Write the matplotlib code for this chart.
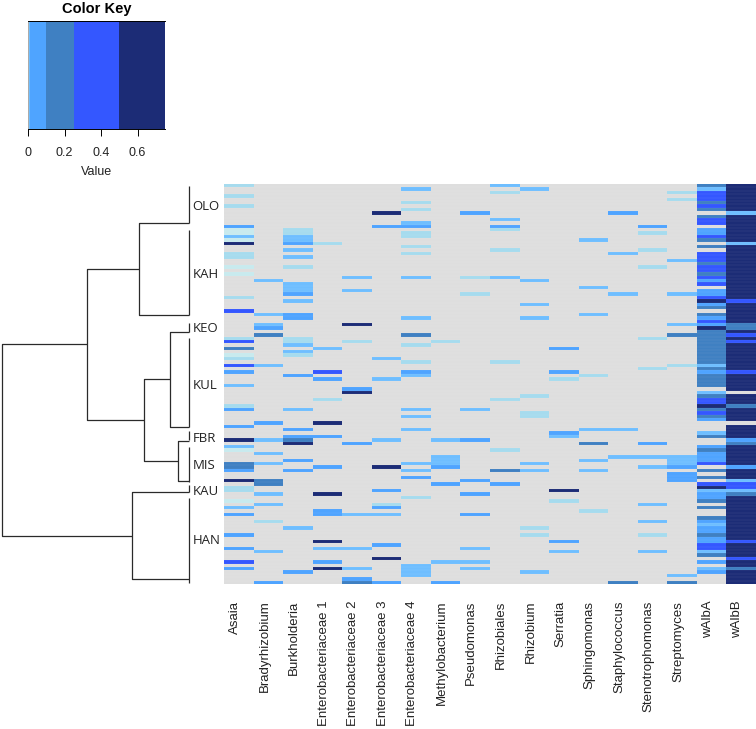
# -*- coding: utf-8 -*-
import numpy as np
import matplotlib
matplotlib.use("Agg")
import matplotlib.pyplot as plt
from matplotlib.colors import ListedColormap, BoundaryNorm

W, H = 756, 729
N_ROWS = 118

taxa = ["Asaia", "Bradyrhizobium", "Burkholderia", "Enterobacteriaceae 1",
        "Enterobacteriaceae 2", "Enterobacteriaceae 3", "Enterobacteriaceae 4",
        "Methylobacterium", "Pseudomonas", "Rhizobiales", "Rhizobium", "Serratia",
        "Sphingomonas", "Staphylococcus", "Stenotrophomonas", "Streptomyces",
        "wAlbA", "wAlbB"]

# colour class of each non-empty cell, row: class (0 = empty, 7 = darkest)
asaia = {0: 2, 3: 2, 6: 2, 12: 4, 13: 1, 14: 1, 15: 3, 16: 1, 17: 7, 20: 2, 21: 2, 24: 1, 26: 1,
         33: 2, 37: 6, 45: 2, 46: 6, 48: 5, 50: 1, 51: 2, 53: 6, 55: 4, 59: 3, 65: 2, 66: 4,
         71: 4, 75: 7, 77: 3, 78: 1, 82: 5, 83: 5, 84: 4, 87: 7, 89: 2, 90: 2, 93: 1, 95: 3,
         97: 4, 103: 4, 107: 4, 111: 6, 113: 4}
bradyrhizobium = {28: 3, 38: 3, 41: 3, 42: 4, 44: 5, 53: 3, 70: 4, 75: 3, 79: 3, 82: 3, 87: 5,
                  88: 5, 91: 3, 94: 3, 99: 2, 108: 3, 117: 4}
burkholderia = {13: 2, 14: 2, 15: 3, 16: 3, 17: 4, 19: 3, 21: 3, 24: 2, 29: 3, 30: 3, 31: 3,
                32: 4, 34: 3, 38: 4, 39: 4, 45: 2, 46: 2, 47: 3, 49: 3, 50: 2, 56: 4, 66: 3,
                72: 4, 74: 4, 75: 5, 76: 7, 81: 4, 84: 4, 101: 3, 114: 4}
entero1 = {17: 2, 48: 3, 55: 6, 57: 4, 63: 2, 70: 7, 74: 4, 83: 4, 91: 7, 96: 4, 97: 4, 105: 7,
           107: 3, 111: 4, 113: 7}
entero2 = {27: 3, 31: 3, 41: 7, 46: 2, 60: 4, 61: 7, 76: 4, 97: 3, 107: 3, 113: 3, 116: 4, 117: 5}
entero3 = {8: 7, 12: 4, 51: 3, 57: 3, 75: 3, 83: 7, 90: 4, 94: 2, 95: 4, 97: 3, 106: 4, 110: 7,
           117: 4}
entero4 = {1: 3, 5: 2, 7: 2, 11: 3, 12: 4, 14: 2, 15: 2, 18: 2, 20: 2, 27: 3, 39: 3, 44: 5, 47: 2,
           52: 2, 55: 4, 56: 3, 66: 3, 68: 3, 72: 3, 82: 3, 84: 3, 86: 4, 92: 2, 112: 3, 113: 3,
           114: 3, 115: 3}
methylobacterium = {46: 2, 75: 3, 80: 3, 81: 3, 82: 3, 83: 4, 88: 4, 111: 3, 117: 4}
pseudomonas = {8: 4, 27: 2, 32: 2, 66: 3, 75: 4, 87: 4, 91: 4, 97: 4, 107: 3, 111: 3, 113: 3}
rhizobiales = {0: 3, 2: 2, 10: 3, 12: 4, 13: 2, 19: 2, 27: 3, 52: 2, 63: 2, 78: 2, 84: 5, 88: 4}
rhizobium = {1: 3, 28: 3, 35: 3, 39: 3, 62: 2, 67: 2, 68: 2, 82: 3, 84: 3, 101: 2, 103: 2, 114: 3}
serratia = {48: 4, 55: 4, 57: 2, 73: 4, 74: 3, 90: 7, 93: 2, 105: 4, 108: 3}
sphingomonas = {16: 3, 30: 3, 38: 3, 56: 2, 72: 3, 76: 5, 81: 3, 84: 3, 96: 2}
staphylococcus = {8: 4, 20: 3, 32: 3, 72: 3, 80: 3, 117: 5}
stenotrophomonas = {12: 4, 14: 2, 19: 2, 24: 2, 45: 2, 54: 2, 76: 4, 80: 3, 83: 3, 94: 3, 99: 3,
                    103: 2, 108: 3}
streptomyces = {2: 2, 4: 2, 22: 3, 32: 3, 41: 3, 44: 5, 53: 2, 80: 3, 81: 3, 82: 3, 83: 4, 85: 4,
                86: 4, 87: 4, 115: 3, 117: 5}
walba = [5, 3, 6, 6, 6, 5, 6, 5, 0, 5, 6, 6, 0, 4, 4, 6, 5, 0, 5, 0,
         6, 6, 6, 5, 6, 6, 5, 6, 4, 6, 0, 4, 4, 6, 7, 4, 5, 0, 5, 4,
         6, 4, 7, 5, 5, 5, 5, 5, 5, 5, 5, 5, 5, 3, 5, 4, 5, 5, 5, 5,
         0, 3, 5, 6, 6, 7, 5, 6, 5, 4, 0, 0, 0, 3, 5, 0, 0, 4, 5, 4,
         4, 4, 6, 0, 5, 0, 5, 0, 6, 7, 3, 4, 4, 5, 0, 5, 0, 0, 5, 4,
         3, 4, 4, 5, 4, 4, 6, 6, 3, 5, 0, 4, 0, 3, 4, 0, 0, 0]
walbb = [7, 7, 7, 7, 7, 7, 7, 7, 3, 7, 7, 7, 7, 7, 7, 7, 7, 3, 7, 7,
         7, 7, 7, 7, 7, 7, 7, 7, 7, 7, 7, 7, 7, 7, 6, 7, 7, 7, 7, 7,
         7, 5, 5, 7, 6, 7, 6, 7, 7, 7, 7, 7, 7, 7, 7, 6, 7, 7, 7, 7,
         7, 0, 7, 7, 7, 5, 7, 7, 7, 7, 0, 7, 7, 7, 7, 4, 5, 7, 7, 7,
         7, 7, 7, 4, 7, 7, 7, 3, 6, 6, 3, 5, 7, 7, 7, 7, 7, 7, 7, 7,
         7, 7, 7, 7, 7, 6, 7, 7, 7, 7, 6, 7, 7, 5, 7, 7, 7, 7]
sparse_cols = [asaia, bradyrhizobium, burkholderia, entero1, entero2, entero3, entero4,
               methylobacterium, pseudomonas, rhizobiales, rhizobium, serratia,
               sphingomonas, staphylococcus, stenotrophomonas, streptomyces]

class_colors = ["#DEDEDE", "#C8EAEE", "#A6DBEE", "#6FBEFF", "#4FA4FF", "#3F80C2", "#3457FF", "#1C2C76"]

# colour key
key_breaks = [0, 0.006, 0.012, 0.1, 0.25, 0.5, 0.75]
key_colors = ["#ABABAB", "#6FBEFF", "#4FA4FF", "#3F80C2", "#3457FF", "#1C2C76"]
key_ticks = [0, 0.2, 0.4, 0.6]
key_tick_labels = ["0", "0.2", "0.4", "0.6"]

# dendrogram, heights in distance from the leaves, positions in rows
clusters = ["OLO", "KAH", "KEO", "KUL", "FBR", "MIS", "KAU", "HAN"]
cluster_label_rows = [6.5, 26.6, 42.5, 59.3, 75.2, 83.1, 90.7, 105.1]
cluster_spans = [(0.5, 11.4), (13.6, 38.6), (40.9, 43.6), (45.5, 71.6), (73.0, 75.5),
                 (77.5, 87.8), (88.8, 90.8), (92.7, 117.8)]
# (height, child a row, child a height, child b row, child b height)
links = [(49.4, 11.6, 0, 38.5, 0), (101.4, 25.1, 49.4, 69.6, 44.4),
         (19.0, 43.7, 0, 71.6, 0), (11.0, 75.7, 0, 87.6, 0),
         (44.4, 57.6, 19.0, 81.7, 11.0), (57.0, 90.9, 0, 116.5, 0),
         (187.0, 47.3, 101.4, 103.7, 57.0)]

plt.rcParams.update({"font.family": "Liberation Sans", "figure.dpi": 100})


def px_axes(fig, left, top, right, bottom):
    return fig.add_axes([left / W, 1 - bottom / H, (right - left) / W, (bottom - top) / H])


fig = plt.figure(figsize=(W / 100, H / 100), dpi=100)

# heatmap
matrix = np.zeros((N_ROWS, len(taxa)))
for j, col in enumerate(sparse_cols):
    for r, v in col.items():
        matrix[r, j] = v
matrix[:, 16] = walba
matrix[:, 17] = walbb

ax = px_axes(fig, 224, 184, 756, 584)
cmap = ListedColormap(class_colors)
norm = BoundaryNorm(np.arange(-0.5, 8.5), cmap.N)
ax.pcolormesh(np.arange(len(taxa) + 1), np.arange(N_ROWS + 1), matrix, cmap=cmap, norm=norm)
ax.hlines(np.arange(1, N_ROWS), 0, len(taxa), color="white", lw=0.3, alpha=0.15)
ax.set_xlim(0, len(taxa))
ax.set_ylim(N_ROWS, 0)
ax.axis("off")
for j, name in enumerate(taxa):
    ax.annotate(name, (j + 0.5, N_ROWS), xytext=(-2.8, -12), textcoords="offset points",
                rotation=90, ha="center", va="top", fontsize=9.5, color="#222222")

# dendrogram
den = px_axes(fig, 0, 184, 224, 584)
den.set_xlim(188.7, 188.7 - 224)
den.set_ylim(N_ROWS, 0)
den.axis("off")
line_kw = dict(color="#2a2a2a", lw=0.9, solid_capstyle="butt")
for h, ra, ha, rb, hb in links:
    den.plot([ha, h, h, hb], [ra, ra, rb, rb], **line_kw)
for start, end in cluster_spans:
    den.plot([0, 0], [start, end], **line_kw)
for name, r in zip(clusters, cluster_label_rows):
    den.text(-4, r, name, ha="left", va="center", fontsize=9.5, color="#222222",
             family="Open Sans")

# colour key
key = px_axes(fig, 28, 21, 165, 129)
key_cmap = ListedColormap(key_colors)
key.pcolormesh(key_breaks, [0, 1], np.arange(len(key_colors)).reshape(1, -1), cmap=key_cmap,
               norm=BoundaryNorm(np.arange(-0.5, len(key_colors)), key_cmap.N))
key.set_xlim(0, 0.75)
key.set_ylim(0, 1)
key.set_yticks([])
for s in ["left", "right"]:
    key.spines[s].set_visible(False)
for s in ["top", "bottom"]:
    key.spines[s].set_linewidth(0.7)
key.set_xticks(key_ticks)
key.set_xticklabels(key_tick_labels, fontsize=9, color="#222222")
key.tick_params(axis="x", length=5, width=0.7, pad=8)
key.set_xlabel("Value", fontsize=9, color="#222222", labelpad=5)
key.set_title("Color Key", fontsize=10.5, fontweight="bold", pad=5.5)

fig.savefig("out.png", dpi=100)
plt.close(fig)
